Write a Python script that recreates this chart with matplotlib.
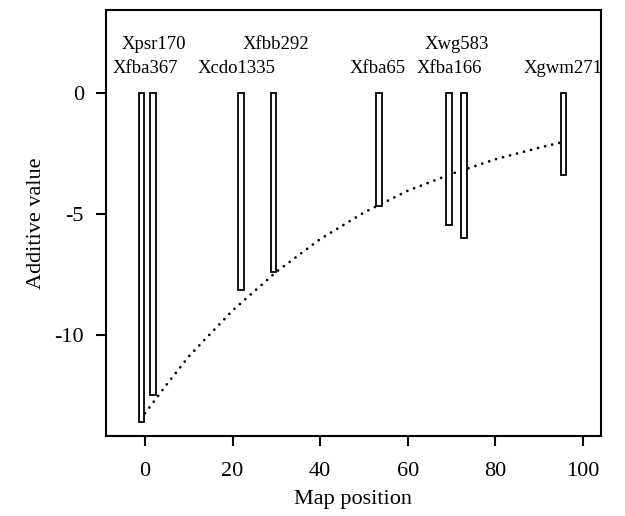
import numpy as np
import matplotlib
matplotlib.use("Agg")
import matplotlib.pyplot as plt

plt.rcParams["font.family"] = ["Liberation Serif", "DejaVu Serif"]
plt.rcParams["axes.unicode_minus"] = False

# marker data
markers = ["Xfba367", "Xpsr170", "Xcdo1335", "Xfbb292", "Xfba65", "Xwg583", "Xfba166", "Xgwm271"]
positions = [-0.8, 1.8, 21.9, 29.3, 53.4, 69.4, 72.8, 95.6]
effects = [-13.6, -12.5, -8.15, -7.4, -4.67, -5.47, -6.02, -3.4]

# dotted curve, points read along it
curve_x = [0, 5, 10, 20, 30, 40, 50, 60, 70, 80, 90, 95.6]
curve_y = [-13.25, -12.05, -10.9, -9.0, -7.4, -6.05, -4.95, -4.05, -3.35, -2.75, -2.27, -2.03]

# label placement (row 1 = lower, row 2 = upper) and small x shifts
label_row = [1, 2, 1, 2, 1, 2, 1, 1]
label_dx = [0.9, 0.3, -0.9, 0.7, -0.3, 1.8, -3.4, -0.2]

fig = plt.figure(figsize=(6.25, 5.16), dpi=100)
ax = fig.add_axes([0.1696, 0.155, 0.792, 0.8256])

ax.bar(positions, effects, width=1.2, color="white", edgecolor="black", linewidth=1.3, zorder=3)
ax.plot(curve_x, curve_y, color="black", linewidth=2, linestyle=(0, (0.01, 2.6)),
        dash_capstyle="round", zorder=2)

for name, x, row, dx in zip(markers, positions, label_row, label_dx):
    ax.text(x + dx, 1.0 if row == 1 else 2.0, name, ha="center", va="center", fontsize=13.5)

ax.set_xlim(-8.9, 104.1)
ax.set_ylim(-14.19, 3.42)
ax.set_xticks([0, 20, 40, 60, 80, 100])
ax.set_yticks([0, -5, -10])
ax.set_yticklabels(["0", "-5", "-10"])
ax.tick_params(direction="out", length=7, width=1.5, labelsize=16)
ax.tick_params(axis="x", pad=12)
ax.tick_params(axis="y", pad=9)
for s in ax.spines.values():
    s.set_linewidth(1.5)

ax.set_xlabel("Map position", fontsize=16, labelpad=6)
ax.set_ylabel("Additive value", fontsize=16, labelpad=6)

fig.savefig("out.png", dpi=100)
